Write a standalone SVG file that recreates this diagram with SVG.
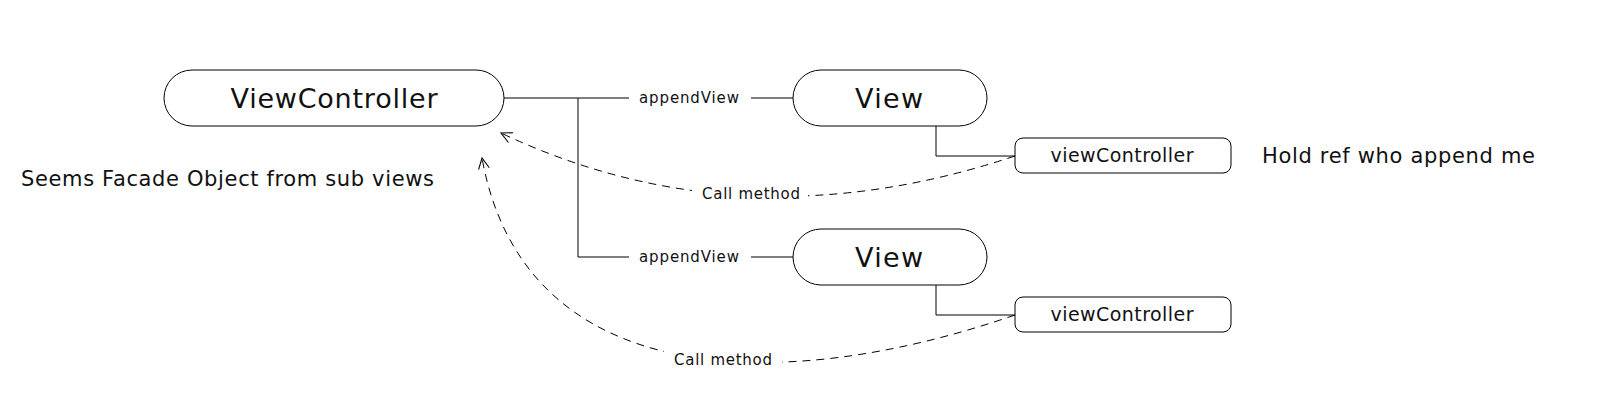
<svg xmlns="http://www.w3.org/2000/svg" width="1612" height="420" viewBox="0 0 1612 420">
<style>
.node{fill:#fff;stroke:#000;stroke-width:1}
.t{font-family:"DejaVu Sans","Open Sans",sans-serif;fill:#111;text-anchor:middle;dominant-baseline:central}
.big{font-size:27px}
.mid{font-size:19px}
.lbl{font-size:15px}
.note{font-family:"DejaVu Sans","Open Sans",sans-serif;fill:#111;font-size:21px;dominant-baseline:central}
.ln{fill:none;stroke:#000;stroke-width:1}
.dash{fill:none;stroke:#000;stroke-width:1;stroke-dasharray:8 6}
</style>
<defs>
<marker id="open" viewBox="0 0 12 12" refX="11" refY="6" markerWidth="13" markerHeight="13" markerUnits="userSpaceOnUse" orient="auto">
<path d="M1,1 L11,6 L1,11" fill="none" stroke="#000" stroke-width="1"/>
</marker>
</defs>
<rect width="1612" height="420" fill="#fff"/>
<g id="connectors">
<path class="ln" d="M504,98 H629 M751,98 H793"/>
<path class="ln" d="M578,98 V257 H629 M751,257 H793"/>
<path class="ln" d="M936,126 V156 H1015"/>
<path class="ln" d="M936,285 V315 H1015"/>
<path class="dash" d="M1015,156 Q742,247 501,133" marker-end="url(#open)"/>
<path class="dash" d="M1015,315 C781,396 524,391 482,158" marker-end="url(#open)"/>
<rect x="632" y="87" width="116" height="22" fill="#fff"/>
<text class="t lbl" x="689" y="98" textLength="100">appendView</text>
<rect x="632" y="246" width="116" height="22" fill="#fff"/>
<text class="t lbl" x="689" y="257" textLength="100">appendView</text>
<rect x="692" y="182" width="116" height="24" fill="#fff"/>
<text class="t lbl" x="751" y="194" textLength="98">Call method</text>
<rect x="664" y="348" width="118" height="24" fill="#fff"/>
<text class="t lbl" x="723" y="360" textLength="98">Call method</text>
</g>
<g id="viewcontroller">
<rect class="node" x="164" y="70" width="340" height="56" rx="28"/>
<text class="t big" x="334" y="98" textLength="207">ViewController</text>
</g>
<g id="view1">
<rect class="node" x="793" y="70" width="194" height="56" rx="28"/>
<text class="t big" x="889" y="98" textLength="68">View</text>
</g>
<g id="view2">
<rect class="node" x="793" y="229" width="194" height="56" rx="28"/>
<text class="t big" x="889" y="257" textLength="68">View</text>
</g>
<g id="vc1">
<rect class="node" x="1015" y="138" width="216" height="35" rx="8"/>
<text class="t mid" x="1122" y="155" textLength="143">viewController</text>
</g>
<g id="vc2">
<rect class="node" x="1015" y="297" width="216" height="35" rx="8"/>
<text class="t mid" x="1122" y="314" textLength="143">viewController</text>
</g>
<g id="notes">
<text class="note" x="1262" y="156" textLength="273">Hold ref who append me</text>
<text class="note" x="21" y="179" textLength="413">Seems Facade Object from sub views</text>
</g>
</svg>
